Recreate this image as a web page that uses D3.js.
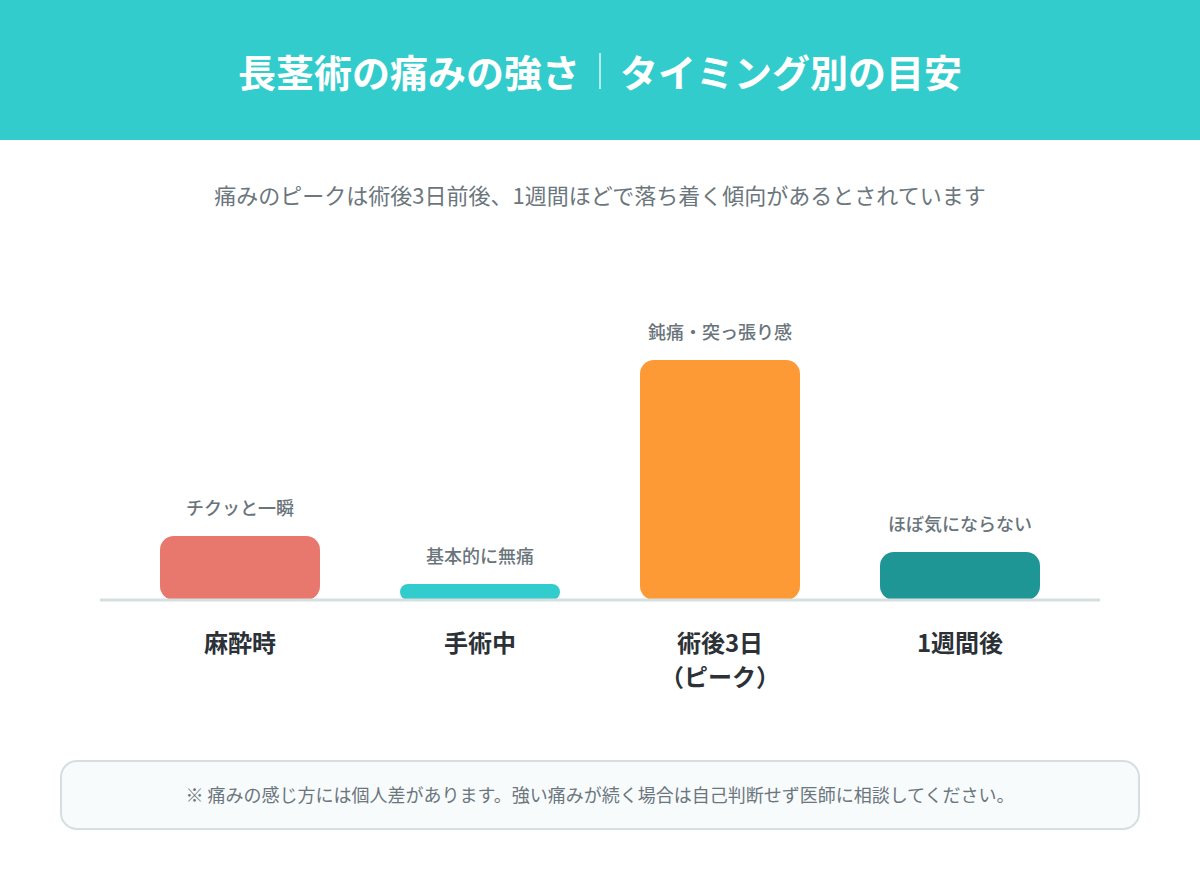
<!DOCTYPE html>
<html>
<head>
<meta charset="UTF-8" />
<script src="https://cdn.jsdelivr.net/npm/d3@7/dist/d3.min.js"></script>
<style>
  html, body { margin: 0; padding: 0; background: #fff; }
  svg { display: block; font-family: "Noto Sans CJK JP", "Noto Sans", sans-serif; }
</style>
</head>
<body>
<div id="chart"></div>
<script>
// data
const categories = ["麻酔時", "手術中", "術後3日\n（ピーク）", "1週間後"];
const painLevels = [20, 5, 75, 15];
const painNotes = ["チクッと一瞬", "基本的に無痛", "鈍痛・突っ張り感", "ほぼ気にならない"];
const barColors = ["#e8786e", "#33cccc", "#fe9a35", "#1e9696"];

const titleLeft = "長茎術の痛みの強さ";
const titleRight = "タイミング別の目安";
const subtitle = "痛みのピークは術後3日前後、1週間ほどで落ち着く傾向があるとされています";
const footnote = "※ 痛みの感じ方には個人差があります。強い痛みが続く場合は自己判断せず医師に相談してください。";

const W = 1200, H = 880;
const svg = d3.select("#chart").append("svg")
    .attr("width", W)
    .attr("height", H)
    .attr("viewBox", [0, 0, W, H]);

// header
svg.append("rect").attr("x", 0).attr("y", 0).attr("width", W).attr("height", 140).attr("fill", "#33cccc");
svg.append("text")
    .attr("x", 580).attr("y", 70)
    .attr("text-anchor", "end").attr("dominant-baseline", "central")
    .attr("fill", "#fff").attr("font-size", 38).attr("font-weight", 700)
    .text(titleLeft);
svg.append("line")
    .attr("x1", 600).attr("x2", 600).attr("y1", 53).attr("y2", 89)
    .attr("stroke", "#fff").attr("stroke-width", 1.5).attr("opacity", 0.85);
svg.append("text")
    .attr("x", 620).attr("y", 70)
    .attr("text-anchor", "start").attr("dominant-baseline", "central")
    .attr("fill", "#fff").attr("font-size", 38).attr("font-weight", 700)
    .text(titleRight);

svg.append("text")
    .attr("x", W / 2).attr("y", 194)
    .attr("text-anchor", "middle").attr("dominant-baseline", "central")
    .attr("fill", "#6b767d").attr("font-size", 22)
    .text(subtitle);

// scales
const x = d3.scaleBand()
    .domain(categories)
    .range([100, 1100])
    .paddingInner(1 / 3)
    .paddingOuter(0.25);
const y = d3.scaleLinear().domain([0, 100]).range([600, 280]);

const data = categories.map((c, i) => ({ cat: c, value: painLevels[i], note: painNotes[i], color: barColors[i] }));

svg.append("g").selectAll("rect")
    .data(data)
    .join("rect")
    .attr("x", d => x(d.cat))
    .attr("y", d => y(d.value))
    .attr("width", x.bandwidth())
    .attr("height", d => y(0) - y(d.value))
    .attr("rx", d => Math.min(14, (y(0) - y(d.value)) / 2))
    .attr("fill", d => d.color);

// baseline
svg.append("line")
    .attr("x1", 100).attr("x2", 1100).attr("y1", 600).attr("y2", 600)
    .attr("stroke", "#d5dfdf").attr("stroke-width", 3);

// value notes
svg.append("g").selectAll("text")
    .data(data)
    .join("text")
    .attr("x", d => x(d.cat) + x.bandwidth() / 2)
    .attr("y", d => y(d.value) - 29)
    .attr("text-anchor", "middle").attr("dominant-baseline", "central")
    .attr("fill", "#6a747b").attr("font-size", 18).attr("font-weight", 500)
    .text(d => d.note);

// category labels
const labels = svg.append("g").selectAll("text")
    .data(data)
    .join("text")
    .attr("x", d => x(d.cat) + x.bandwidth() / 2)
    .attr("y", 644)
    .attr("text-anchor", "middle")
    .attr("fill", "#2b3136").attr("font-size", 24).attr("font-weight", 700);
labels.selectAll("tspan")
    .data(d => d.cat.split("\n").map(t => ({ t, cx: x(d.cat) + x.bandwidth() / 2 })))
    .join("tspan")
    .attr("x", d => d.cx)
    .attr("dy", (d, i) => i === 0 ? "0.35em" : "1.38em")
    .text(d => d.t);

// footnote box
svg.append("rect")
    .attr("x", 61).attr("y", 761).attr("width", 1078).attr("height", 68)
    .attr("rx", 16)
    .attr("fill", "#f8fbfc").attr("stroke", "#d5dfdf").attr("stroke-width", 2);
svg.append("text")
    .attr("x", W / 2).attr("y", 794)
    .attr("text-anchor", "middle").attr("dominant-baseline", "central")
    .attr("fill", "#6b767d").attr("font-size", 18)
    .text(footnote);
</script>
</body>
</html>
